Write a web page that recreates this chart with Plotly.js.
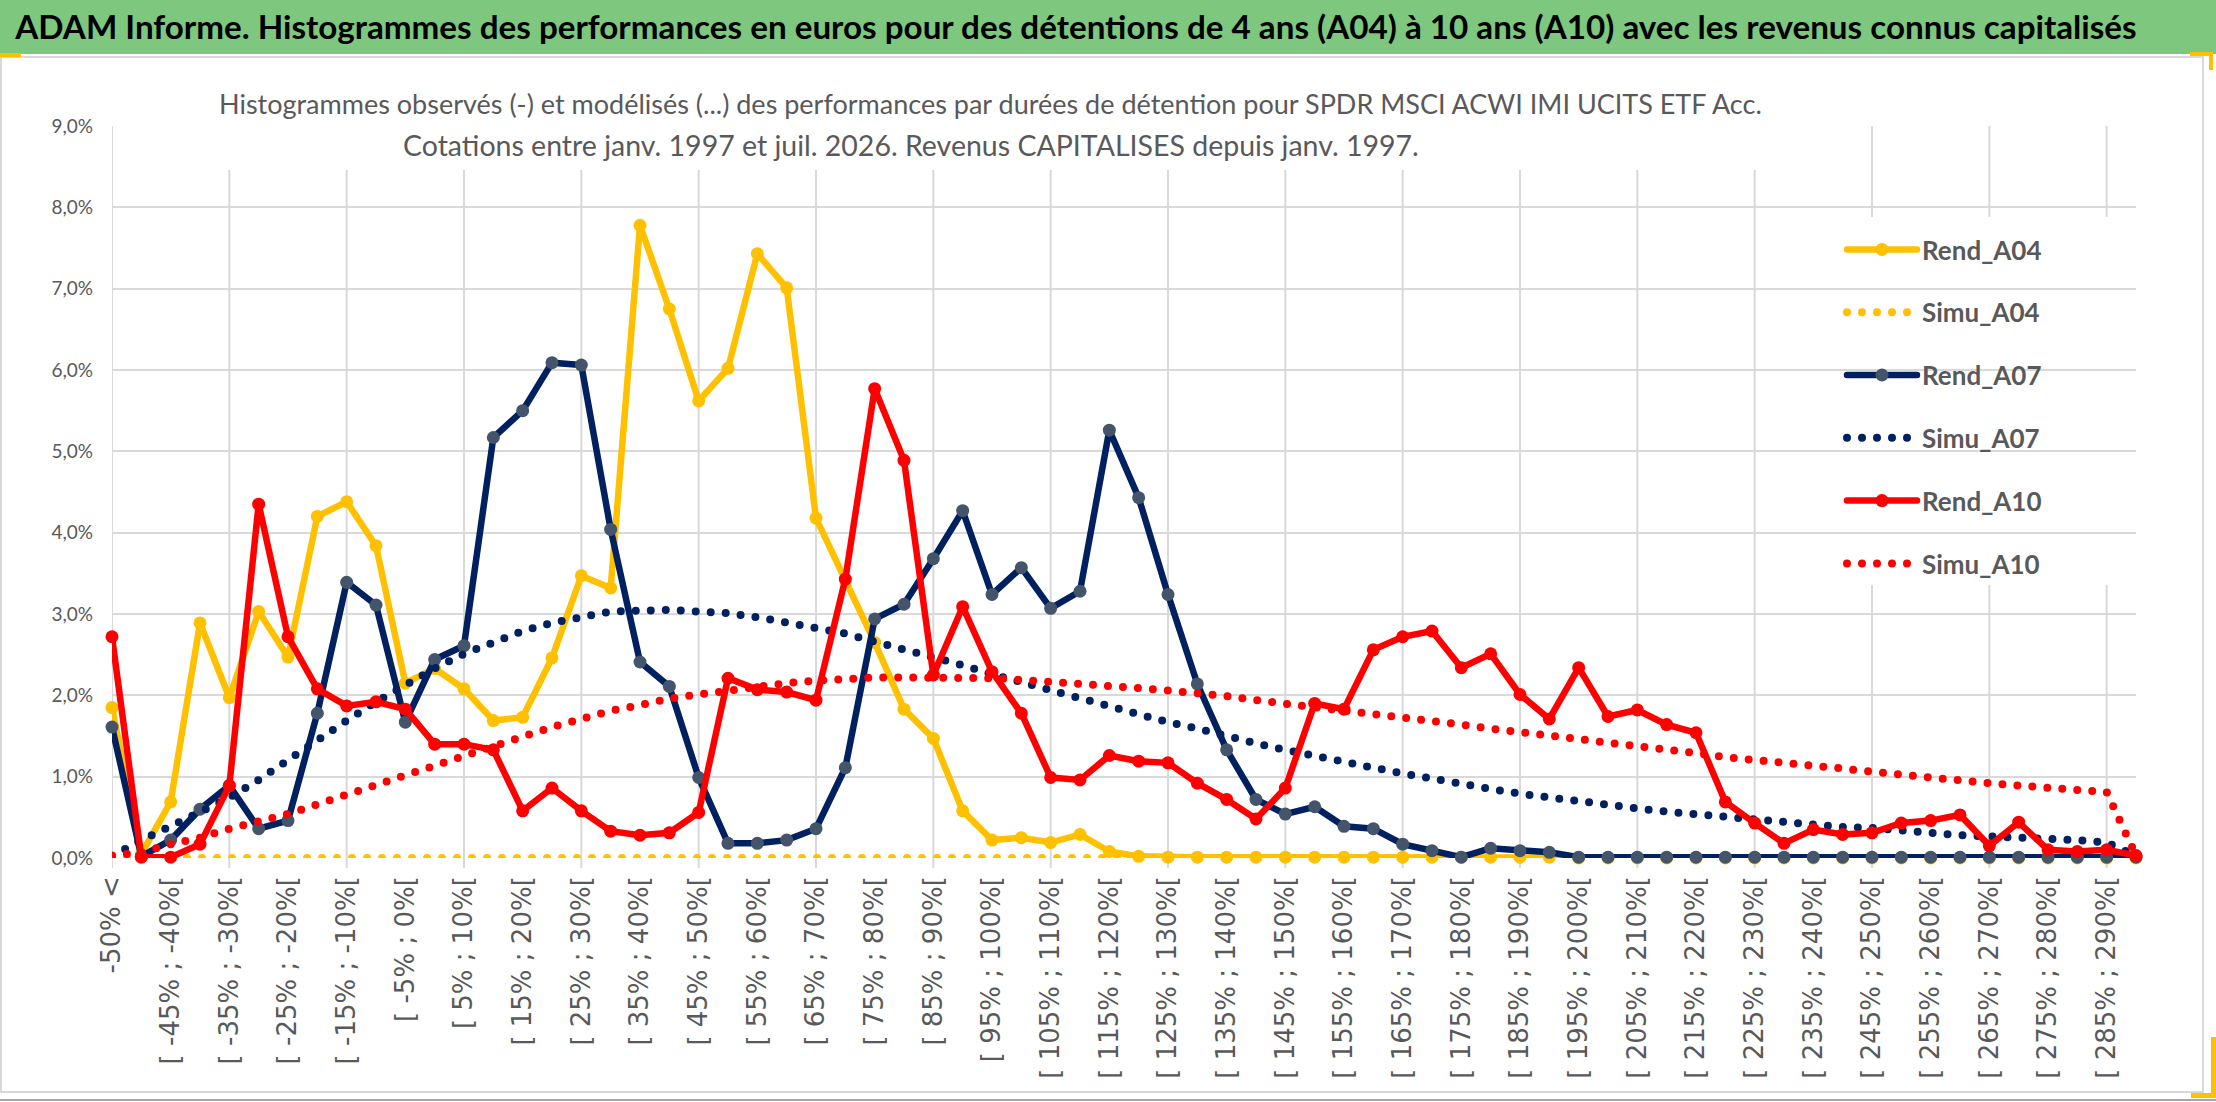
<!DOCTYPE html>
<html>
<head>
<meta charset="utf-8">
<script src="https://cdn.plot.ly/plotly-3.0.1.min.js"></script>
<style>
  html, body { margin: 0; padding: 0; background: #ffffff; }
  #chart { width: 2216px; height: 1102px; }
  .js-line { stroke-linecap: round; }
</style>
</head>
<body>
<div id="chart"></div>
<script>
// ---------- DATA ----------
const categories = [
  "-50% <", "[ -50% ; -45%[", "[ -45% ; -40%[", "[ -40% ; -35%[", "[ -35% ; -30%[",
  "[ -30% ; -25%[", "[ -25% ; -20%[", "[ -20% ; -15%[", "[ -15% ; -10%[", "[ -10% ; -5%[",
  "[ -5% ; 0%[", "[ 0% ; 5%[", "[ 5% ; 10%[", "[ 10% ; 15%[", "[ 15% ; 20%[",
  "[ 20% ; 25%[", "[ 25% ; 30%[", "[ 30% ; 35%[", "[ 35% ; 40%[", "[ 40% ; 45%[",
  "[ 45% ; 50%[", "[ 50% ; 55%[", "[ 55% ; 60%[", "[ 60% ; 65%[", "[ 65% ; 70%[",
  "[ 70% ; 75%[", "[ 75% ; 80%[", "[ 80% ; 85%[", "[ 85% ; 90%[", "[ 90% ; 95%[",
  "[ 95% ; 100%[", "[ 100% ; 105%[", "[ 105% ; 110%[", "[ 110% ; 115%[", "[ 115% ; 120%[",
  "[ 120% ; 125%[", "[ 125% ; 130%[", "[ 130% ; 135%[", "[ 135% ; 140%[", "[ 140% ; 145%[",
  "[ 145% ; 150%[", "[ 150% ; 155%[", "[ 155% ; 160%[", "[ 160% ; 165%[", "[ 165% ; 170%[",
  "[ 170% ; 175%[", "[ 175% ; 180%[", "[ 180% ; 185%[", "[ 185% ; 190%[", "[ 190% ; 195%[",
  "[ 195% ; 200%[", "[ 200% ; 205%[", "[ 205% ; 210%[", "[ 210% ; 215%[", "[ 215% ; 220%[",
  "[ 220% ; 225%[", "[ 225% ; 230%[", "[ 230% ; 235%[", "[ 235% ; 240%[", "[ 240% ; 245%[",
  "[ 245% ; 250%[", "[ 250% ; 255%[", "[ 255% ; 260%[", "[ 260% ; 265%[", "[ 265% ; 270%[",
  "[ 270% ; 275%[", "[ 275% ; 280%[", "[ 280% ; 285%[", "[ 285% ; 290%[", "[ 290% ; 295%["
];

// values in %
const rendA04 = [
  1.85, 0.05, 0.69, 2.89, 1.97, 3.03, 2.47, 4.20, 4.38, 3.84,
  2.15, 2.33, 2.08, 1.69, 1.73, 2.46, 3.47, 3.32, 7.78, 6.75,
  5.62, 6.02, 7.43, 7.01, 4.18, 3.42, 2.65, 1.83, 1.47, 0.58,
  0.22, 0.25, 0.19, 0.29, 0.08, 0.02, 0.01, 0.01, 0.01, 0.01,
  0.01, 0.01, 0.01, 0.01, 0.01, 0.01, 0.01, 0.01, 0.01, 0.01,
  0.00, 0.00, 0.00, 0.00, 0.00, 0.00, 0.00, 0.00, 0.00, 0.00,
  0.00, 0.00, 0.00, 0.00, 0.00, 0.00, 0.00, 0.00, 0.00, 0.00
];
const simuA04 = [
  0.00, 0.00, 0.00, 0.00, 0.00, 0.00, 0.00, 0.00, 0.00, 0.00,
  0.00, 0.00, 0.00, 0.00, 0.00, 0.00, 0.00, 0.00, 0.00, 0.00,
  0.00, 0.00, 0.00, 0.00, 0.00, 0.00, 0.00, 0.00, 0.00, 0.00,
  0.00, 0.00, 0.00, 0.00, 0.00, 0.00, 0.00, 0.00, 0.00, 0.00,
  0.00, 0.00, 0.00, 0.00, 0.00, 0.00, 0.00, 0.00, 0.00, 0.00,
  0.00, 0.00, 0.00, 0.00, 0.00, 0.00, 0.00, 0.00, 0.00, 0.00,
  0.00, 0.00, 0.00, 0.00, 0.00, 0.00, 0.00, 0.00, 0.00, 0.00
];
const rendA07 = [
  1.61, 0.02, 0.22, 0.60, 0.89, 0.36, 0.46, 1.78, 3.39, 3.11,
  1.67, 2.44, 2.61, 5.17, 5.50, 6.09, 6.06, 4.04, 2.41, 2.11,
  0.99, 0.18, 0.18, 0.22, 0.36, 1.11, 2.94, 3.12, 3.68, 4.27,
  3.24, 3.57, 3.07, 3.28, 5.26, 4.43, 3.24, 2.14, 1.33, 0.72,
  0.54, 0.63, 0.39, 0.36, 0.17, 0.09, 0.01, 0.12, 0.09, 0.07,
  0.01, 0.01, 0.01, 0.01, 0.01, 0.01, 0.01, 0.01, 0.01, 0.01,
  0.01, 0.01, 0.01, 0.01, 0.01, 0.01, 0.01, 0.01, 0.01, 0.01
];
const simuA07 = [
  0.02, 0.22, 0.39, 0.56, 0.74, 0.96, 1.21, 1.44, 1.69, 1.92,
  2.13, 2.33, 2.51, 2.65, 2.79, 2.89, 2.97, 3.03, 3.04, 3.05,
  3.03, 3.01, 2.96, 2.90, 2.83, 2.76, 2.66, 2.57, 2.47, 2.37,
  2.26, 2.16, 2.07, 1.96, 1.86, 1.77, 1.67, 1.59, 1.49, 1.41,
  1.33, 1.25, 1.18, 1.11, 1.04, 0.97, 0.91, 0.85, 0.79, 0.74,
  0.70, 0.65, 0.61, 0.57, 0.54, 0.49, 0.46, 0.43, 0.41, 0.38,
  0.37, 0.33, 0.31, 0.28, 0.27, 0.25, 0.23, 0.22, 0.19, 0.03
];
const rendA10 = [
  2.72, 0.01, 0.01, 0.17, 0.89, 4.35, 2.72, 2.08, 1.87, 1.92,
  1.83, 1.40, 1.40, 1.33, 0.58, 0.86, 0.58, 0.33, 0.28, 0.31,
  0.56, 2.21, 2.07, 2.04, 1.94, 3.43, 5.77, 4.89, 2.25, 3.09,
  2.29, 1.78, 0.99, 0.96, 1.26, 1.19, 1.17, 0.92, 0.72, 0.48,
  0.86, 1.90, 1.83, 2.56, 2.72, 2.79, 2.34, 2.51, 2.01, 1.71,
  2.34, 1.74, 1.82, 1.64, 1.54, 0.69, 0.43, 0.18, 0.35, 0.29,
  0.31, 0.43, 0.46, 0.53, 0.15, 0.44, 0.10, 0.08, 0.10, 0.03
];
const simuA10 = [
  0.03, 0.07, 0.17, 0.25, 0.36, 0.44, 0.54, 0.66, 0.78, 0.89,
  1.03, 1.14, 1.26, 1.39, 1.51, 1.61, 1.71, 1.81, 1.88, 1.96,
  2.01, 2.06, 2.11, 2.15, 2.18, 2.21, 2.22, 2.22, 2.22, 2.22,
  2.21, 2.19, 2.17, 2.15, 2.12, 2.09, 2.06, 2.03, 1.99, 1.94,
  1.90, 1.86, 1.82, 1.78, 1.72, 1.68, 1.64, 1.59, 1.55, 1.51,
  1.46, 1.41, 1.38, 1.34, 1.29, 1.24, 1.21, 1.17, 1.13, 1.10,
  1.06, 1.02, 0.99, 0.96, 0.92, 0.89, 0.86, 0.83, 0.81, 0.03
];

const seriesNames = ["Rend_A04", "Simu_A04", "Rend_A07", "Simu_A07", "Rend_A10", "Simu_A10"];
const tickLabels = categories.filter((c, i) => i % 2 === 0);   // labelled every 2nd class
const gridCats = categories.filter((c, i) => i % 4 === 0);     // gridline every 4th class

const mainTitle = "ADAM Informe. Histogrammes des performances en euros pour des détentions de 4 ans (A04) à 10 ans (A10) avec les revenus connus capitalisés";
const subTitle1 = "Histogrammes observés (-) et modélisés (...) des performances par durées de détention pour SPDR MSCI ACWI IMI UCITS ETF Acc.";
const subTitle2 = "Cotations entre janv. 1997 et juil. 2026. Revenus CAPITALISES depuis janv. 1997.";

// ---------- LAYOUT HELPERS (pixel -> paper) ----------
const W = 2216, H = 1102;
const M = { l: 112, r: 80, t: 126, b: 244 };
const PW = W - M.l - M.r, PH = H - M.t - M.b;
const px2x = px => (px - M.l) / PW;
const py2y = py => (H - M.b - py) / PH;

const YELLOW = "#FFC000", NAVY = "#002060", SLATE = "#44546A", RED = "#FF0000";
const GRID = "#D9D9D9";
const DOTS = "0px,15px";

function solid(name, y, color, mcolor, grp) {
  return {
    type: "scatter", mode: "lines+markers", name: name, x: categories, y: y,
    legendgroup: grp, cliponaxis: false, hoverinfo: "skip",
    line: { color: color, width: 6.5 },
    marker: { color: mcolor, size: 13, line: { width: 0 } }
  };
}
function dotted(name, y, color, grp) {
  return {
    type: "scatter", mode: "lines", name: name, x: categories, y: y,
    legendgroup: grp, cliponaxis: false, hoverinfo: "skip",
    line: { color: color, width: 8, dash: DOTS }
  };
}

const traces = [
  solid(seriesNames[0], rendA04, YELLOW, YELLOW, "g1"),
  dotted(seriesNames[1], simuA04, YELLOW, "g2"),
  solid(seriesNames[2], rendA07, NAVY, SLATE, "g3"),
  dotted(seriesNames[3], simuA07, NAVY, "g4"),
  solid(seriesNames[4], rendA10, RED, RED, "g5"),
  dotted(seriesNames[5], simuA10, RED, "g6")
];

// vertical category gridlines (every 4th class) incl. short tick below the axis
const gridShapes = gridCats.map(c => ({
  type: "line", xref: "x", yref: "paper", layer: "below",
  x0: c, x1: c, y0: -10 / PH, y1: 1,
  line: { color: GRID, width: 2 }
}));

const layout = {
  width: W, height: H,
  margin: { l: M.l, r: M.r, t: M.t, b: M.b, pad: 0 },
  paper_bgcolor: "#ffffff",
  plot_bgcolor: "rgba(0,0,0,0)",
  separators: ", ",
  font: { family: "Lato, 'Open Sans', sans-serif", color: "#595959" },
  showlegend: true,
  title: {
    text: mainTitle,
    font: { family: "Lato, sans-serif", size: 33.2, color: "#000000", weight: "bold" },
    xref: "container", yref: "container",
    x: 1076 / W, xanchor: "center",
    y: 1 - 27 / H, yanchor: "middle"
  },
  xaxis: {
    type: "category", range: [0, 69],
    tickmode: "array", tickvals: tickLabels, ticktext: tickLabels,
    tickangle: -90, showgrid: false, zeroline: false, showline: false, ticks: "",
    ticklabelstandoff: 12,
    tickfont: { family: "'DejaVu Sans', sans-serif", size: 26, color: "#595959" },
    fixedrange: true
  },
  yaxis: {
    range: [0, 9], tick0: 0, dtick: 1, tickformat: ".1f", ticksuffix: "%",
    showgrid: true, gridcolor: GRID, gridwidth: 2, zeroline: false, showline: false,
    ticks: "", ticklabelstandoff: 18,
    tickfont: { family: "Lato, sans-serif", size: 19, color: "#595959" },
    fixedrange: true
  },
  legend: {
    x: px2x(1842), xanchor: "left", y: py2y(226), yanchor: "top",
    bgcolor: "rgba(0,0,0,0)", borderwidth: 0,
    font: { family: "Lato, sans-serif", size: 26, color: "#595959", weight: "bold" },
    itemwidth: 70, tracegroupgap: 26, traceorder: "grouped"
  },
  shapes: gridShapes.concat([
    { type: "rect", xref: "paper", yref: "paper", layer: "below",
      x0: px2x(0), x1: px2x(W), y0: py2y(0), y1: py2y(54),
      fillcolor: "#7DC77E", line: { width: 0 } },
    { type: "rect", xref: "paper", yref: "paper", layer: "below",
      x0: px2x(1), x1: px2x(2203), y0: py2y(57), y1: py2y(1092),
      fillcolor: "rgba(0,0,0,0)", line: { color: GRID, width: 2 } },
    { type: "line", xref: "paper", yref: "paper", layer: "below",
      x0: px2x(0), x1: px2x(W), y0: py2y(1100), y1: py2y(1100),
      line: { color: "#A6A6A6", width: 2 } },
    { type: "rect", xref: "paper", yref: "paper", layer: "between",
      x0: px2x(219), x1: px2x(1765), y0: py2y(80), y1: py2y(170),
      fillcolor: "#ffffff", line: { width: 0 } },
    { type: "rect", xref: "paper", yref: "paper", layer: "between",
      x0: px2x(1779), x1: px2x(2111), y0: py2y(217), y1: py2y(585),
      fillcolor: "#ffffff", line: { width: 0 } },
    { type: "rect", xref: "paper", yref: "paper", layer: "above",
      x0: px2x(0), x1: px2x(21), y0: py2y(53), y1: py2y(57),
      fillcolor: YELLOW, line: { width: 0 } },
    { type: "rect", xref: "paper", yref: "paper", layer: "above",
      x0: px2x(2190), x1: px2x(2212), y0: py2y(52), y1: py2y(56),
      fillcolor: YELLOW, line: { width: 0 } },
    { type: "rect", xref: "paper", yref: "paper", layer: "above",
      x0: px2x(2209), x1: px2x(2213), y0: py2y(52), y1: py2y(70),
      fillcolor: YELLOW, line: { width: 0 } },
    { type: "rect", xref: "paper", yref: "paper", layer: "above",
      x0: px2x(2211), x1: px2x(2216), y0: py2y(1037), y1: py2y(1098),
      fillcolor: YELLOW, line: { width: 0 } },
    { type: "rect", xref: "paper", yref: "paper", layer: "above",
      x0: px2x(2191), x1: px2x(2216), y0: py2y(1093), y1: py2y(1098),
      fillcolor: YELLOW, line: { width: 0 } }
  ]),
  annotations: [
    { text: subTitle1, xref: "paper", yref: "paper", x: px2x(990), y: py2y(103),
      xanchor: "center", yanchor: "middle", showarrow: false,
      font: { family: "Lato, sans-serif", size: 27, color: "#595959" } },
    { text: subTitle2, xref: "paper", yref: "paper", x: px2x(911), y: py2y(145),
      xanchor: "center", yanchor: "middle", showarrow: false,
      font: { family: "Lato, sans-serif", size: 28.5, color: "#595959" } }
  ]
};

Plotly.newPlot("chart", traces, layout, { displayModeBar: false, staticPlot: true });
</script>
</body>
</html>
